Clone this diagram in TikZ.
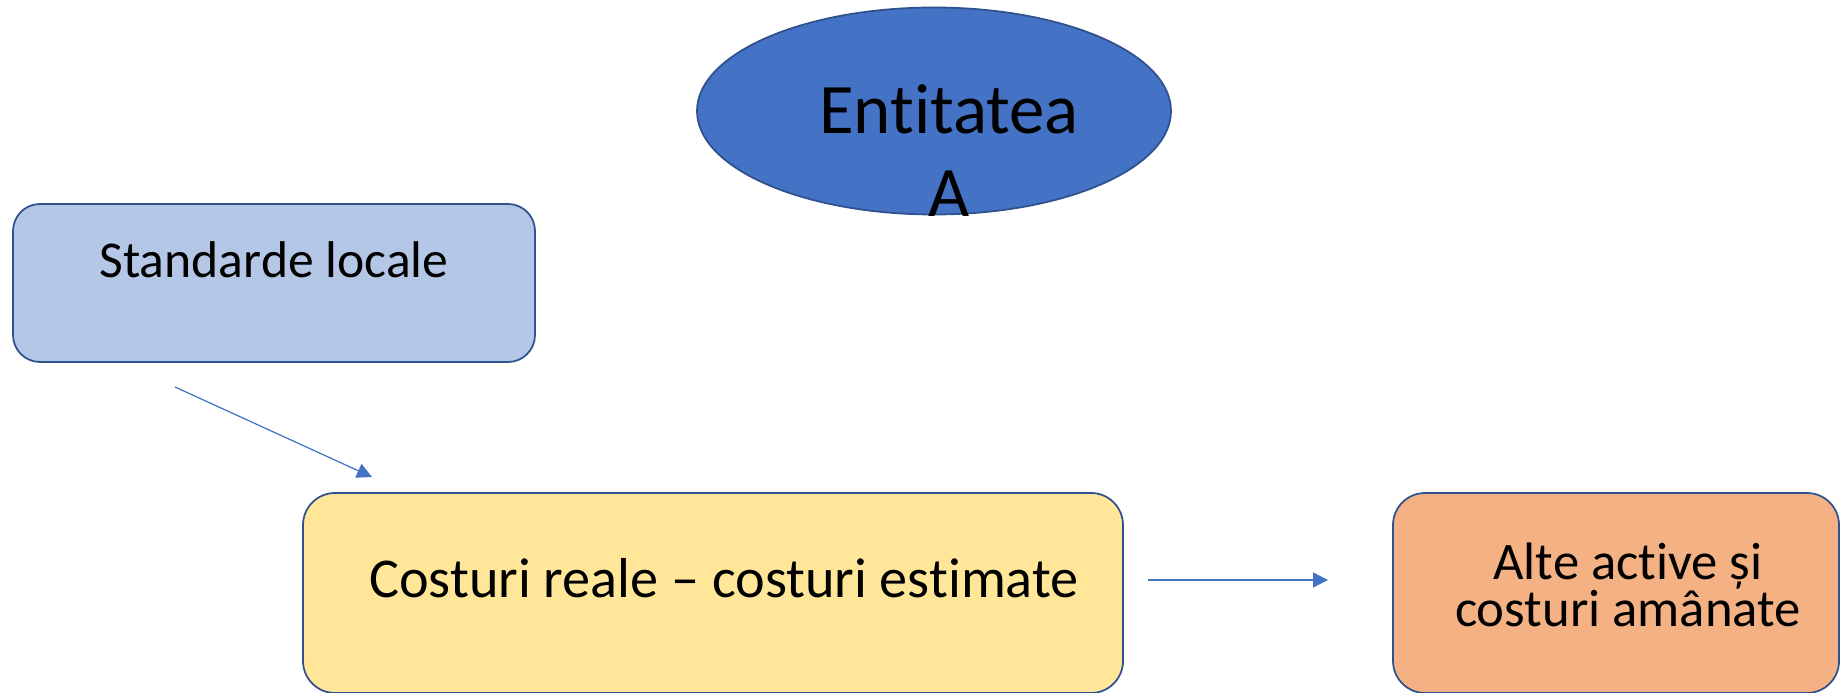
\documentclass[tikz,border=0pt]{standalone}
\usepackage{fontspec}
\setmainfont{Carlito}[Ligatures=NoCommon]
\usetikzlibrary{arrows.meta,shapes.geometric,positioning}
\definecolor{entBlue}{HTML}{4472C4}
\definecolor{edgeBlue}{HTML}{2F528F}
\definecolor{stdFill}{HTML}{B4C7E7}
\definecolor{costFill}{HTML}{FFE699}
\definecolor{altFill}{HTML}{F4B183}
\def\bw{0.5pt}
\def\nl{\kern0pt}% keeps t and i apart

\begin{document}
\begin{tikzpicture}
    [
        x=0.1mm, y=-0.1mm,
        entity/.style={ellipse, draw=edgeBlue, fill=entBlue, line width=\bw, inner sep=0pt,
                       minimum width=47.4mm, minimum height=20.7mm},
        box/.style={rectangle, draw=edgeBlue, line width=\bw, inner sep=0pt},
        txt/.style={inner sep=0pt, text=black, font=\fontsize{15pt}{18pt}\selectfont},
        link/.style={entBlue, line width=0.35pt, -{Triangle[length=1.5mm,width=1.5mm]}}
    ]
%    \draw[style=help lines,step=100] (0,0) grid (1840,693);
    \node[entity] (ent) at (934,111) {};
    \node[txt, align=center, font=\fontsize{20.2pt}{23.6pt}\selectfont] (entTxt) at (949,151) {Ent\nl itatea\\A};

    \node[box, fill=stdFill, rounded corners=2.7mm,
          minimum width=52.2mm, minimum height=15.8mm] (std) at (274,283) {};
    \node[txt, anchor=base, font=\fontsize{14.7pt}{18pt}\selectfont] (stdTxt) at (274,278) {Standarde locale};

    \node[box, fill=costFill, rounded corners=3.2mm,
          minimum width=82mm, minimum height=20mm] (cost) at (713,593) {};
    \node[txt, anchor=base, font=\fontsize{16pt}{19pt}\selectfont] (costTxt) at (724,598) {Costuri reale – costuri est\nl imate};

    \node[box, fill=altFill, rounded corners=3.2mm,
          minimum width=44.6mm, minimum height=20mm] (alt) at (1616,593) {};
    \node[txt, align=center, font=\fontsize{15pt}{13.5pt}\selectfont] (altTxt) at (1628,585) {Alte act\nl ive și\\costuri amânate};

    \coordinate (s1) at (175,387);
    \coordinate (e1) at (372,477);
    \coordinate (s2) at (1148,580);
    \coordinate (e2) at (1328,580);
    \draw[link] (s1) -- (e1);
    \draw[link] (s2) -- (e2);

    \pgfresetboundingbox
    \useasboundingbox (0,0) rectangle (1840,693);
\end{tikzpicture}
\end{document}
